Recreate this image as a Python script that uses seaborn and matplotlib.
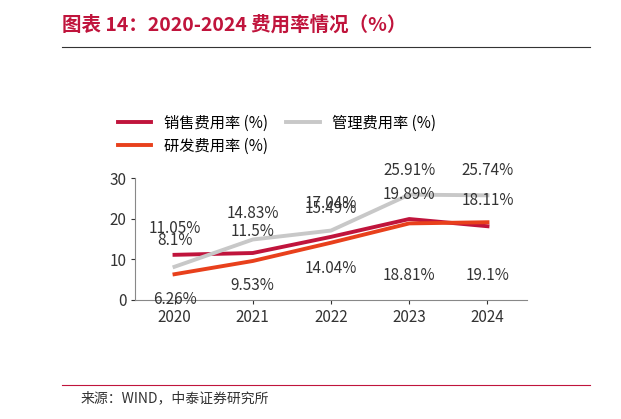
import matplotlib
matplotlib.use("Agg")
import matplotlib.pyplot as plt
import seaborn as sns
import pandas as pd

plt.rcParams["font.family"] = ["Noto Sans CJK SC", "DejaVu Sans"]

years = ["2020", "2021", "2022", "2023", "2024"]
sales = [11.05, 11.5, 15.49, 19.89, 18.11]
admin = [8.1, 14.83, 17.04, 25.91, 25.74]
rnd = [6.26, 9.53, 14.04, 18.81, 19.1]
names = ["销售费用率 (%)", "管理费用率 (%)", "研发费用率 (%)"]
colors = ["#C0143C", "#C8C8C8", "#E8401C"]
label_offsets = [[26, 22, 28, 25, 26], [26, 26, 27, 24, 25], [-25, -25, -26, -52, -53]]

df = pd.DataFrame({"year": years * 3,
                   "value": sales + admin + rnd,
                   "series": [names[0]] * 5 + [names[1]] * 5 + [names[2]] * 5})

fig = plt.figure(figsize=(6.21, 4.19), dpi=100)
ax = fig.add_axes([0.218, 0.285, 0.63, 0.29])
sns.lineplot(data=df, x="year", y="value", hue="series", palette=colors,
             linewidth=2.8, ax=ax, sort=False)
ax.set_ylim(0, 30)
ax.set_yticks([0, 10, 20, 30])
ax.set_xlim(-0.5, 4.5)
ax.set_xlabel(""); ax.set_ylabel("")
for s in ["top", "right"]:
    ax.spines[s].set_visible(False)
for s in ["left", "bottom"]:
    ax.spines[s].set_color("#888888")
ax.tick_params(labelsize=11, colors="#333333", length=3)

for vals, offs in zip([sales, admin, rnd], label_offsets):
    for i, (v, o) in enumerate(zip(vals, offs)):
        ax.annotate(f"{v:g}%", (i, v), xytext=(0, o * 0.72), textcoords="offset points",
                    ha="center", va="center", fontsize=11, color="#333333")

h, l = ax.get_legend_handles_labels()
order = [0, 2, 1]
ax.legend([h[i] for i in order], [l[i] for i in order], ncol=2, frameon=False,
          loc="lower left", bbox_to_anchor=(-0.08, 1.08), fontsize=11,
          handlelength=2.2, columnspacing=1.2, labelspacing=0.4)

fig.text(0.1, 0.94, "图表 14：2020-2024 费用率情况（%）", fontsize=14, color="#C0143C",
         fontweight="bold", style="italic", ha="left", va="center")
fig.add_artist(plt.Line2D([0.1, 0.95], [0.888, 0.888], color="#333333", lw=0.8))
fig.add_artist(plt.Line2D([0.1, 0.95], [0.08, 0.08], color="#C0143C", lw=0.8))
fig.text(0.13, 0.05, "来源：WIND，中泰证券研究所", fontsize=10, color="#333333", ha="left", va="center")
fig.savefig("out.png", dpi=100)
